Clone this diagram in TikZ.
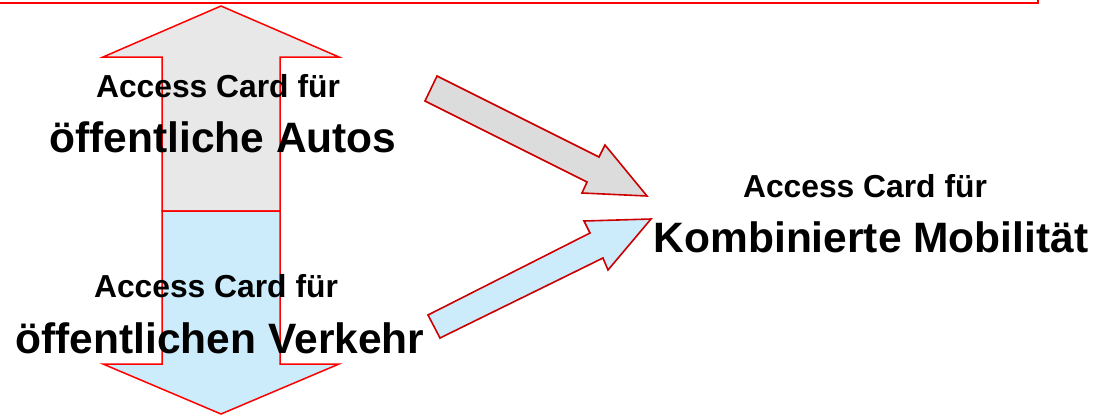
\documentclass[tikz,border=0pt]{standalone}
\usepackage{fontspec}
\setmainfont{Liberation Sans}
\definecolor{edgered}{HTML}{FF0000}
\definecolor{darkedge}{HTML}{CC0000}
\definecolor{autogray}{HTML}{E8E8E8}
\definecolor{flowgray}{HTML}{DCDCDC}
\definecolor{transitblue}{HTML}{CCEBFB}
\tikzset{
  small/.style={font=\bfseries\fontsize{31.8}{32}\selectfont, anchor=base, inner sep=0pt},
  large/.style={font=\bfseries\fontsize{42.5}{43}\selectfont, anchor=base, inner sep=0pt},
  bigarrow/.style={draw=edgered, line width=1.5pt, line join=miter},
  flowarrow/.style={draw=darkedge, line width=1.6pt, line join=miter},
}
\begin{document}
\begin{tikzpicture}[x=1pt,y=-1pt]
  \useasboundingbox (0,0) rectangle (1108,416);
  % frame cut off at the top
  \draw[edgered, line width=2pt] (-5,3) -- (1038,3) -- (1038,-5);

  % up arrow (public cars)
  \path[bigarrow, fill=autogray]
    (221,6) -- (339,57) -- (280,57) -- (280,211) -- (162,211) -- (162,57) -- (103,57) -- cycle;
  % down arrow (public transport)
  \path[bigarrow, fill=transitblue]
    (162,211) -- (280,211) -- (280,364) -- (339,364) -- (221,414) -- (103,364) -- (162,364) -- cycle;

  % diagonal arrows towards combined mobility
  \path[flowarrow, fill=flowgray]
    (437,76) -- (599,157) -- (605,145) -- (647,196) -- (582,193) -- (587,182) -- (425,101) -- cycle;
  \path[flowarrow, fill=transitblue]
    (428,315) -- (590,233) -- (584,221) -- (651,219) -- (608,270) -- (603,258) -- (440,338) -- cycle;

  % labels
  \node[small] (carsA) at (218,97) {Access Card für};
  \node[large] (carsB) at (223,152) {öffentliche Autos};
  \node[small] (ptA) at (216,297) {Access Card für};
  \node[large] (ptB) at (220,353) {öffentlichen Verkehr};
  \node[small] (combA) at (865,197) {Access Card für};
  \node[large] (combB) at (871,252) {Kombinierte Mobilität};
\end{tikzpicture}
\end{document}
